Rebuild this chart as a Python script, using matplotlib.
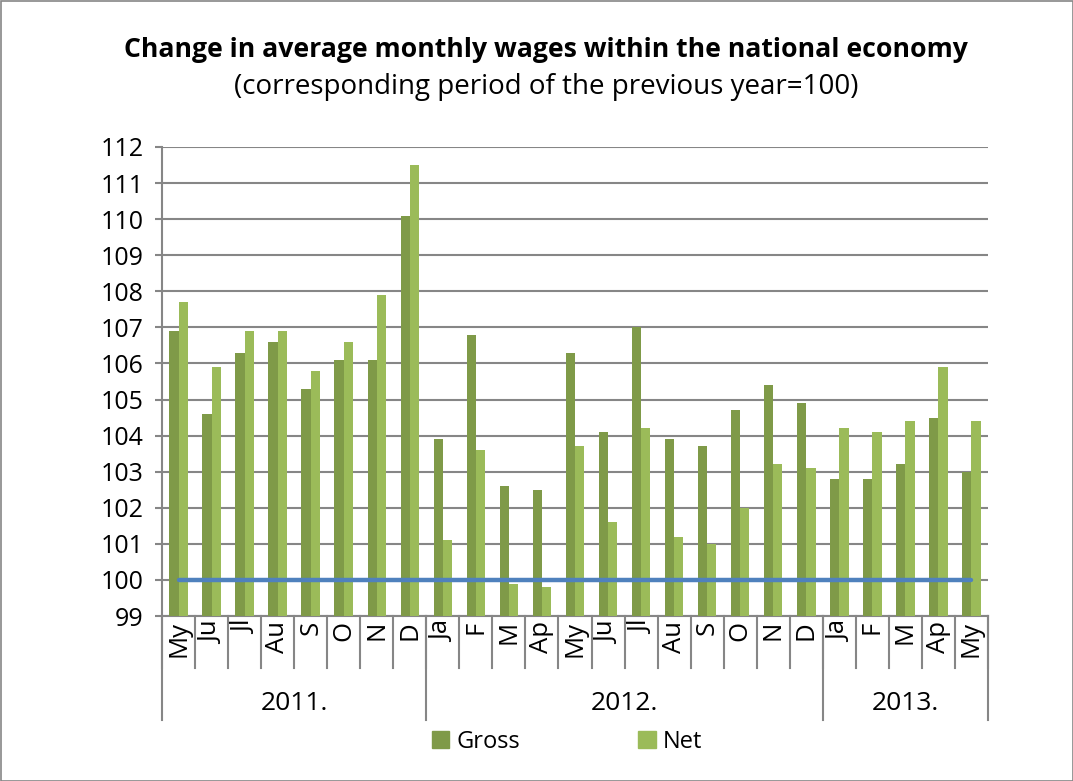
import matplotlib
matplotlib.use("Agg")
import matplotlib.pyplot as plt
import matplotlib.transforms as mtransforms
from matplotlib.patches import Patch, Rectangle
import numpy as np

months = ["My", "Ju", "Jl", "Au", "S", "O", "N", "D",
          "Ja", "F", "M", "Ap", "My", "Ju", "Jl", "Au", "S", "O", "N", "D",
          "Ja", "F", "M", "Ap", "My"]
years = ["2011.", "2012.", "2013."]
year_counts = [8, 12, 5]
gross = [106.9, 104.6, 106.3, 106.6, 105.3, 106.1, 106.1, 110.1,
         103.9, 106.8, 102.6, 102.5, 106.3, 104.1, 107.0, 103.9, 103.7, 104.7, 105.4, 104.9,
         102.8, 102.8, 103.2, 104.5, 103.0]
net = [107.7, 105.9, 106.9, 106.9, 105.8, 106.6, 107.9, 111.5,
       101.1, 103.6, 99.9, 99.8, 103.7, 101.6, 104.2, 101.2, 101.0, 102.0, 103.2, 103.1,
       104.2, 104.1, 104.4, 105.9, 104.4]
baseline = 100
title = "Change in average monthly wages within the national economy"
subtitle = "(corresponding period of the previous year=100)"

plt.rcParams['font.family'] = ['Open Sans', 'DejaVu Sans']

fig = plt.figure(figsize=(10.73, 7.81), dpi=100)
ax = fig.add_axes([162/1073, 1-616/781, (988-162)/1073, (616-147)/781])

x = np.arange(len(months))
bw = 0.28
c_gross = "#7F9A48"
c_net = "#9BBB59"
grid_c = "#868686"
ymin = 99
ax.bar(x - bw/2, np.array(gross) - ymin, bw, bottom=ymin, color=c_gross, zorder=3)
ax.bar(x + bw/2, np.array(net) - ymin, bw, bottom=ymin, color=c_net, zorder=3)
ax.plot([x[0], x[-1]], [baseline, baseline], color="#4F81BD", lw=3.2, zorder=4,
        solid_capstyle="round")

ax.set_xlim(-0.5, len(months) - 0.5)
ax.set_ylim(99, 112)
ax.set_yticks(np.arange(99, 113, 1))
ax.yaxis.grid(True, color=grid_c, lw=1.5, zorder=0)
ax.set_axisbelow(True)
for s in ["top", "right"]:
    ax.spines[s].set_visible(False)
ax.spines["left"].set_color(grid_c)
ax.spines["left"].set_linewidth(1.5)
ax.spines["bottom"].set_color(grid_c)
ax.spines["bottom"].set_linewidth(1.5)
ax.tick_params(axis="y", colors=grid_c, length=5, width=1.5, labelsize=18, labelcolor="black", pad=8)
ax.set_xticks([])

trans = mtransforms.blended_transform_factory(ax.transData, ax.transAxes)
h = (616-147)
# month separators
for i in range(len(months) + 1):
    ax.plot([i - 0.5, i - 0.5], [0, -(668-616)/h], transform=trans, color=grid_c,
            lw=1.5, clip_on=False)
# month labels
for i, m in enumerate(months):
    ax.text(i, -(621-616)/h, m, transform=trans, rotation=90, ha="center", va="top",
            fontsize=18.5)
# year separators and labels
start = 0
bounds = [0]
for c in year_counts:
    start += c
    bounds.append(start)
for b in bounds:
    ax.plot([b - 0.5, b - 0.5], [0, -(720-616)/h], transform=trans, color=grid_c,
            lw=1.5, clip_on=False)
for j, yl in enumerate(years):
    cx = (bounds[j] + bounds[j+1]) / 2 - 0.5
    ax.text(cx, -(704-616)/h, yl, transform=trans, ha="center", va="center", fontsize=19)

fig.text(546/1073, 1-50/781, title, ha="center", va="center", fontsize=19.2, fontweight="bold")
fig.text(546/1073, 1-87/781, subtitle, ha="center", va="center", fontsize=20)

handles = [Patch(color=c_gross, label="Gross"), Patch(color=c_net, label="Net")]
fig.legend(handles=handles, loc="center", bbox_to_anchor=(567/1073, 1-742/781), ncol=2,
           frameon=False, fontsize=17, handlelength=0.75, handleheight=0.75,
           handletextpad=0.3, columnspacing=5.0)

fig.patches.append(Rectangle((0.5/1073, 0.5/781), 1-1/1073, 1-1/781, transform=fig.transFigure,
                             fill=False, edgecolor=grid_c, lw=1.2))

fig.savefig("out.png", dpi=100)
